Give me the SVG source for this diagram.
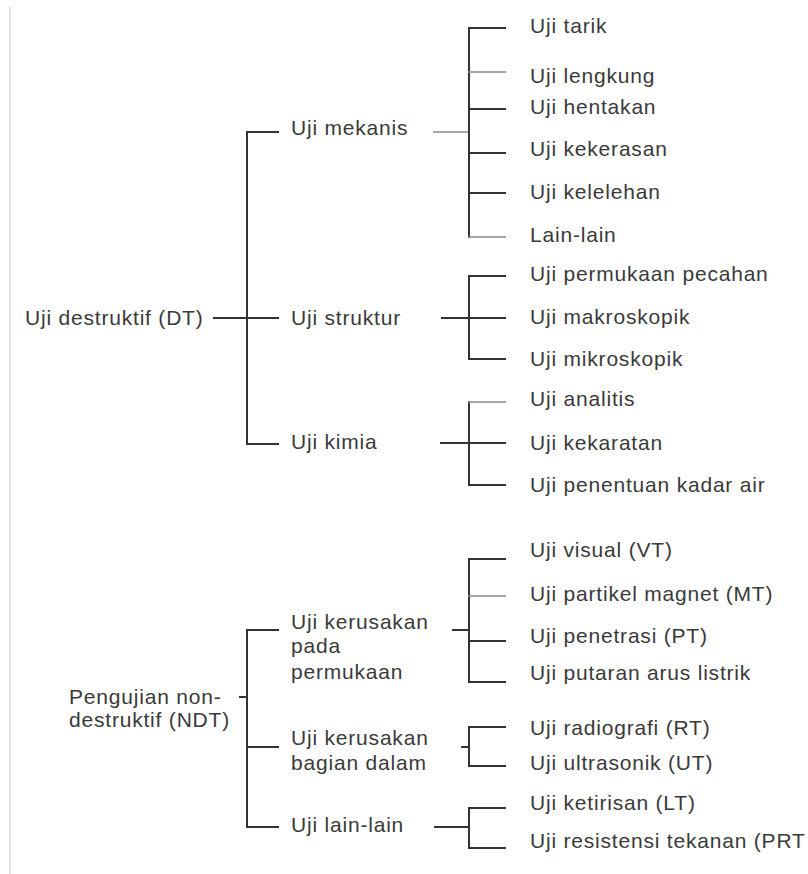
<svg xmlns="http://www.w3.org/2000/svg" width="808" height="874" viewBox="0 0 808 874">
<style>
text{font-family:"Liberation Sans",Arial,sans-serif;font-size:21px;letter-spacing:0.8px;fill:#3a3a3a}
.c line{stroke:#333;stroke-width:2;fill:none}
.c line.l{stroke:#888;stroke-width:1.6}
</style>
<rect width="808" height="874" fill="#fff"/>
<line x1="10" y1="7" x2="10" y2="874" stroke="#e2e2e2" stroke-width="2"/>
<g class="c" id="connectors">
<!-- DT -->
<line x1="213" y1="318" x2="279" y2="318"/>
<line x1="247" y1="131" x2="247" y2="445"/>
<line x1="246" y1="132" x2="279" y2="132"/>
<line x1="246" y1="444" x2="279" y2="444"/>
<!-- mekanis -->
<line class="l" x1="433" y1="132" x2="469" y2="132"/>
<line x1="469" y1="27" x2="469" y2="238"/>
<line x1="468" y1="28" x2="506" y2="28"/>
<line class="l" x1="468" y1="72" x2="506" y2="72"/>
<line x1="468" y1="109" x2="506" y2="109"/>
<line x1="468" y1="153" x2="506" y2="153"/>
<line x1="468" y1="193" x2="506" y2="193"/>
<line class="l" x1="468" y1="237" x2="506" y2="237"/>
<!-- struktur -->
<line x1="441" y1="318" x2="506" y2="318"/>
<line x1="469" y1="275" x2="469" y2="360"/>
<line x1="468" y1="276" x2="506" y2="276"/>
<line x1="468" y1="359" x2="506" y2="359"/>
<!-- kimia -->
<line x1="440" y1="443" x2="506" y2="443"/>
<line x1="469" y1="401" x2="469" y2="486"/>
<line class="l" x1="468" y1="402" x2="506" y2="402"/>
<line x1="468" y1="485" x2="506" y2="485"/>
<!-- NDT -->
<line x1="239" y1="697" x2="247" y2="697"/>
<line x1="247" y1="629" x2="247" y2="828"/>
<line x1="246" y1="630" x2="279" y2="630"/>
<line x1="246" y1="747" x2="279" y2="747"/>
<line x1="246" y1="827" x2="279" y2="827"/>
<!-- permukaan -->
<line x1="452" y1="630" x2="469" y2="630"/>
<line x1="469" y1="558" x2="469" y2="683"/>
<line x1="468" y1="559" x2="506" y2="559"/>
<line class="l" x1="468" y1="596" x2="506" y2="596"/>
<line x1="468" y1="641" x2="506" y2="641"/>
<line x1="468" y1="682" x2="506" y2="682"/>
<!-- dalam -->
<line x1="461" y1="747" x2="469" y2="747"/>
<line x1="469" y1="726" x2="469" y2="767"/>
<line x1="468" y1="727" x2="506" y2="727"/>
<line x1="468" y1="766" x2="506" y2="766"/>
<!-- lain -->
<line x1="434" y1="827" x2="469" y2="827"/>
<line x1="469" y1="807" x2="469" y2="849"/>
<line x1="468" y1="808" x2="506" y2="808"/>
<line x1="468" y1="848" x2="506" y2="848"/>
</g>
<g id="n-dt"><text x="25" y="325">Uji destruktif (DT)</text></g>
<g id="n-mekanis"><text x="291" y="135">Uji mekanis</text></g>
<g id="n-struktur"><text x="291" y="325">Uji struktur</text></g>
<g id="n-kimia"><text x="291" y="449">Uji kimia</text></g>
<g id="n-tarik"><text x="530" y="33">Uji tarik</text></g>
<g id="n-lengkung"><text x="530" y="83">Uji lengkung</text></g>
<g id="n-hentakan"><text x="530" y="114">Uji hentakan</text></g>
<g id="n-kekerasan"><text x="530" y="156">Uji kekerasan</text></g>
<g id="n-kelelehan"><text x="530" y="199">Uji kelelehan</text></g>
<g id="n-lain"><text x="530" y="242">Lain-lain</text></g>
<g id="n-pecahan"><text x="530" y="281">Uji permukaan pecahan</text></g>
<g id="n-makro"><text x="530" y="324">Uji makroskopik</text></g>
<g id="n-mikro"><text x="530" y="366">Uji mikroskopik</text></g>
<g id="n-analitis"><text x="530" y="406">Uji analitis</text></g>
<g id="n-kekaratan"><text x="530" y="450">Uji kekaratan</text></g>
<g id="n-kadar"><text x="530" y="492">Uji penentuan kadar air</text></g>
<g id="n-ndt"><text x="69" y="704">Pengujian non-</text><text x="69" y="727">destruktif (NDT)</text></g>
<g id="n-permukaan"><text x="291" y="629">Uji kerusakan</text><text x="291" y="653">pada</text><text x="291" y="679">permukaan</text></g>
<g id="n-dalam"><text x="291" y="745">Uji kerusakan</text><text x="291" y="770">bagian dalam</text></g>
<g id="n-lainlain"><text x="291" y="832">Uji lain-lain</text></g>
<g id="n-vt"><text x="530" y="557">Uji visual (VT)</text></g>
<g id="n-mt"><text x="530" y="601">Uji partikel magnet (MT)</text></g>
<g id="n-pt"><text x="530" y="643">Uji penetrasi (PT)</text></g>
<g id="n-arus"><text x="530" y="680">Uji putaran arus listrik</text></g>
<g id="n-rt"><text x="530" y="735">Uji radiografi (RT)</text></g>
<g id="n-ut"><text x="530" y="770">Uji ultrasonik (UT)</text></g>
<g id="n-lt"><text x="530" y="810">Uji ketirisan (LT)</text></g>
<g id="n-prt"><text x="530" y="848">Uji resistensi tekanan (PRT</text></g>
</svg>
